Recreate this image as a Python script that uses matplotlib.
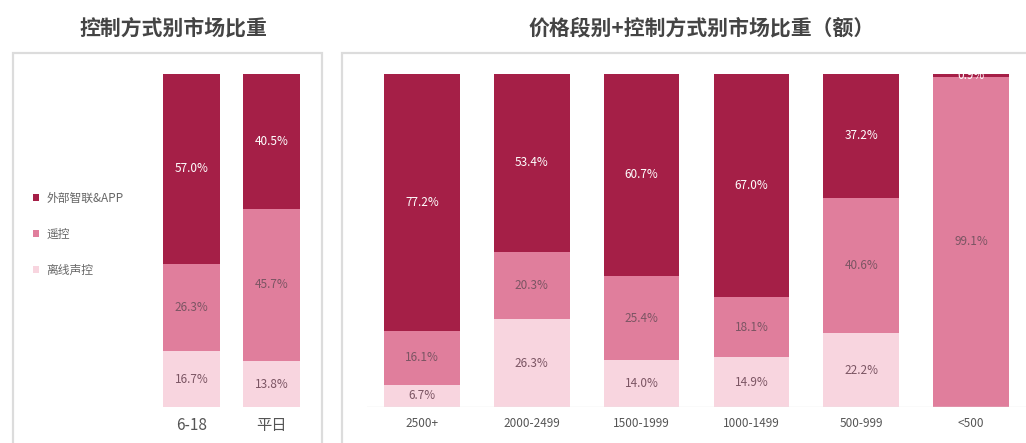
import matplotlib.pyplot as plt
from matplotlib.patches import Rectangle

plt.rcParams['font.family'] = ['Noto Sans CJK SC', 'DejaVu Sans']

# shares per control type, bottom to top: offline voice, remote, external app
series = ['外部智联&APP', '遥控', '离线声控']

left_cats = ['6-18', '平日']
left_app = [57.0, 40.5]
left_remote = [26.3, 45.7]
left_voice = [16.7, 13.8]

right_cats = ['2500+', '2000-2499', '1500-1999', '1000-1499', '500-999', '<500']
right_app = [77.2, 53.4, 60.7, 67.0, 37.2, 0.9]
right_remote = [16.1, 20.3, 25.4, 18.1, 40.6, 99.1]
right_voice = [6.7, 26.3, 14.0, 14.9, 22.2, 0.0]

C_APP = '#a51f47'
C_REMOTE = '#e07e9c'
C_VOICE = '#f8d5df'
TXT = '#7b5563'

W, H = 1026, 443
fig = plt.figure(figsize=(W / 100, H / 100), dpi=100)


def px_axes(x0, x1, ytop, ybot):
    return fig.add_axes([x0 / W, (H - ybot) / H, (x1 - x0) / W, (ybot - ytop) / H])


def panel_box(x0, x1, ytop):
    fig.patches.append(Rectangle((x0 / W, -0.05), (x1 - x0) / W, (H - ytop) / H + 0.05,
                                 transform=fig.transFigure, fill=False,
                                 edgecolor='#dcdcdc', linewidth=1.6))


def stacked(ax, cats, voice, remote, app, width, fs_tick, fs_val):
    xs = range(len(cats))
    b1 = ax.bar(xs, voice, width, color=C_VOICE)
    b2 = ax.bar(xs, remote, width, bottom=voice, color=C_REMOTE)
    base = [v + r for v, r in zip(voice, remote)]
    b3 = ax.bar(xs, app, width, bottom=base, color=C_APP)
    for bars, vals, col in ((b1, voice, TXT), (b2, remote, TXT), (b3, app, 'white')):
        for rect, v in zip(bars, vals):
            if v <= 0:
                continue
            ax.text(rect.get_x() + rect.get_width() / 2, rect.get_y() + rect.get_height() / 2,
                    f'{v:.1f}%', ha='center', va='center', fontsize=fs_val, color=col)
    ax.set_ylim(0, 100)
    ax.set_xlim(-0.5, len(cats) - 0.5)
    ax.set_xticks(list(xs))
    ax.set_xticklabels(cats, fontsize=fs_tick, color='#555555')
    ax.tick_params(axis='x', length=0, pad=7)
    ax.set_yticks([])
    for s in ax.spines.values():
        s.set_visible(False)
    return b3, b2, b1


# left panel
panel_box(13, 322, 53)
ax1 = px_axes(151.5, 311.5, 74, 407)
handles = stacked(ax1, left_cats, left_voice, left_remote, left_app, 0.71, 11, 8.5)
fig.text(173 / W, 1 - 28 / H, '控制方式别市场比重', ha='center', va='center',
         fontsize=15, fontweight='bold', color='#444444')
fig.legend(handles, series, loc='upper left', bbox_to_anchor=(22 / W, 1 - 181 / H),
           frameon=False, fontsize=8.5, labelcolor='#666666', handlelength=0.55,
           handleheight=0.55, labelspacing=1.95, handletextpad=0.6)

# right panel
panel_box(342, 1030, 53)
ax2 = px_axes(367, 1026, 74, 407)
stacked(ax2, right_cats, right_voice, right_remote, right_app, 0.69, 8.5, 8.5)
ax2.axhline(0, color='#e6e6e6', linewidth=1)
fig.text(702 / W, 1 - 28 / H, '价格段别+控制方式别市场比重（额）', ha='center', va='center',
         fontsize=15, fontweight='bold', color='#444444')

fig.savefig('out.png', dpi=100)
